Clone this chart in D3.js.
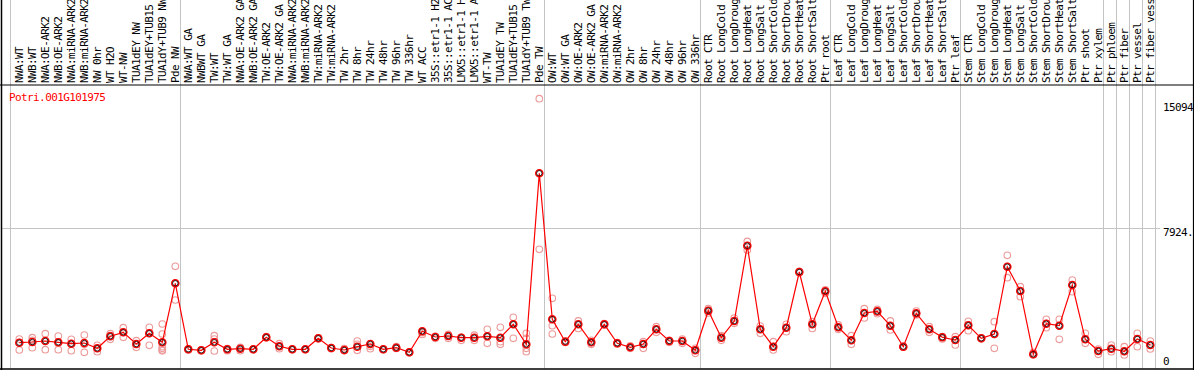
<!DOCTYPE html>
<html>
<head>
<meta charset="utf-8">
<script src="https://cdn.jsdelivr.net/npm/d3@7"></script>
<style>
  body { margin: 0; background: #fff; }
  svg { display: block; }
  text { font-family: "DejaVu Sans Mono", monospace; font-size: 11px; letter-spacing: -0.6px; }
</style>
</head>
<body>
<div id="chart"></div>
<script>
// chart size
const width = 1194
const height = 370

const geneName = "Potri.001G101975"

// sample names, left to right
const categories = [
  "NWA:WT", "NWB:WT", "NWA:OE-ARK2", "NWB:OE-ARK2", "NWA:miRNA-ARK2", "NWB:miRNA-ARK2",
  "NW 0hr", "WT H2O", "WT-NW", "TUA1dEY NW", "TUA1dEY+TUB15 NW", "TUA1dY+TUB9 NW", "Pde NW",
  "NWA:WT GA", "NWBWT GA", "TW:WT", "TW:WT GA", "NWA:OE-ARK2 GA", "NWB:OE-ARK2 GA",
  "TW:OE-ARK2", "TW:OE-ARK2 GA", "NWA:miRNA-ARK2 GA", "NWB:miRNA-ARK2 GA", "TW:miRNA-ARK2",
  "TW:miRNA-ARK2 GA", "TW 2hr", "TW 8hr", "TW 24hr", "TW 48hr", "TW 96hr", "TW 336hr",
  "WT ACC", "35S::etr1-1 H2O", "35S::etr1-1 ACC", "LMX5::etr1-1 H2O", "LMX5::etr1-1 ACC",
  "WT-TW", "TUA1dEY TW", "TUA1dEY+TUB15 TW", "TUA1dY+TUB9 TW", "Pde TW",
  "OW:WT", "OW:WT GA", "OW:OE-ARK2", "OW:OE-ARK2 GA", "OW:miRNA-ARK2", "OW:miRNA-ARK2 GA",
  "OW 2hr", "OW 8hr", "OW 24hr", "OW 48hr", "OW 96hr", "OW 336hr",
  "Root CTR", "Root LongCold", "Root LongDrought", "Root LongHeat", "Root LongSalt",
  "Root ShortCold", "Root ShortDrought", "Root ShortHeat", "Root ShortSalt", "Ptr root",
  "Leaf CTR", "Leaf LongCold", "Leaf LongDrought", "Leaf LongHeat", "Leaf LongSalt",
  "Leaf ShortCold", "Leaf ShortDrought", "Leaf ShortHeat", "Leaf ShortSalt", "Ptr leaf",
  "Stem CTR", "Stem LongCold", "Stem LongDrought", "Stem LongHeat", "Stem LongSalt",
  "Stem ShortCold", "Stem ShortDrought", "Stem ShortHeat", "Stem ShortSalt", "Ptr shoot",
  "Ptr xylem", "Ptr phloem", "Ptr fiber", "Ptr vessel", "Ptr fiber vessel"
]

// mean expression per sample
const means = [
  1598, 1637, 1692, 1620, 1543, 1582, 1288, 1952, 2173, 1526, 2118, 1620, 4883,
  1233, 1178, 1620, 1233, 1266, 1233, 1897, 1399, 1233, 1233, 1841, 1305, 1194, 1377,
  1526, 1233, 1322, 1067, 2229, 1913, 1969, 1875, 1875, 1952, 1875, 2616, 1510, 10966,
  2892, 1654, 2616, 1620, 2616, 1565, 1344, 1526, 2339, 1692, 1692, 1178,
  3368, 1875, 2798, 6962, 2339, 1377, 2428, 5508, 2616, 4440,
  2450, 1731, 3240, 3330, 2538, 1377, 3222, 2339, 1897, 1747,
  2560, 1841, 2079, 5801, 4457, 957, 2649, 2538, 4789, 1786,
  1139, 1266, 1123, 1803, 1471
]

// individual replicates per sample
const replicates = [
  [1803, 1598, 1194], [1875, 1731, 1322], [2096, 1692, 1211], [1969, 1582, 1211],
  [1786, 1543, 1156], [2024, 1510, 1067], [1454, 1288, 1100], [2096, 1985, 1786],
  [2428, 2173, 1897], [1709, 1526, 1344], [2450, 2118, 1454],
  [2632, 2079, 1377, 1288, 1194, 1150], [5823, 4883, 3960],
  [1260, 1233, 1200], [1200, 1178, 1150], [1985, 1803, 1139], [1266, 1233, 1156],
  [1344, 1300, 1156], [1250, 1233, 1215], [1930, 1897, 1870], [1543, 1399, 1266],
  [1250, 1233, 1215], [1250, 1233, 1215], [1870, 1841, 1810], [1330, 1305, 1270],
  [1270, 1194, 1150], [1692, 1510, 1178], [1526, 1400, 1266], [1250, 1233, 1215],
  [1377, 1322, 1280], [1090, 1067, 1040], [2229, 2150, 2057], [1950, 1913, 1841],
  [2057, 1969, 1841], [1900, 1875, 1731], [2013, 1875, 1730], [2339, 1952, 1565],
  [2450, 1654, 1510], [3003, 2616, 1841], [2118, 1841, 1471, 1288, 1100],
  [15094, 10966, 6763],
  [4053, 2892, 2538, 2079], [1700, 1654, 1610], [2800, 2616, 2390], [1731, 1620, 1510],
  [2650, 2616, 2580], [1600, 1565, 1530], [1420, 1344, 1288], [1654, 1510, 1288],
  [2484, 2339, 2173], [1730, 1692, 1620], [1803, 1692, 1565], [1288, 1178, 1011],
  [3480, 3368, 3240], [1985, 1875, 1731], [2965, 2798, 2670], [7200, 6962, 6725],
  [2520, 2339, 2118], [1654, 1377, 1194], [2616, 2428, 2210], [5540, 5508, 5470],
  [2760, 2616, 2390], [4520, 4440, 4330],
  [2580, 2450, 2339], [1985, 1731, 1510], [3480, 3240, 2965], [3440, 3330, 3200],
  [2800, 2538, 2300], [1400, 1377, 1350], [3350, 3222, 3130], [2484, 2339, 2173],
  [1930, 1897, 1803], [1930, 1747, 1471],
  [2780, 2560, 2260], [1870, 1841, 1810], [2760, 2079, 1288], [6430, 5801, 5193],
  [4696, 4457, 4143], [1060, 957, 930], [2890, 2649, 2428], [2890, 2538, 1786],
  [5065, 4789, 4420], [2118, 1786, 1565],
  [1250, 1139, 957], [1471, 1266, 1100], [1377, 1123, 920], [2118, 1803, 1377],
  [1692, 1471, 1250]
]

// last sample index of each group (a separator follows it)
const groupEnds = [12, 40, 52, 62, 72, 83, 84, 85, 86, 87]

// y axis labels
const tickValues = [15094, 7924, 0]
const tickLabels = ["15094", "7924.", "0"]
const yMax = 15848

const headerBottom = 85
const frameBottom = 368.5

const svg = d3.select("#chart")
  .append("svg")
  .attr("width", width)
  .attr("height", height)

const x = d3.scaleLinear()
  .domain([0, categories.length - 1])
  .range([19.3, 1150.3])

const y = d3.scaleLinear()
  .domain([0, yMax])
  .range([371.6, headerBottom])

// separators
const sepX = [x(0) - 9].concat(groupEnds.map(i => x(i) + 5))
svg.append("g")
  .selectAll("line")
  .data(sepX)
  .enter()
  .append("line")
  .attr("x1", d => Math.round(d) + 0.5)
  .attr("x2", d => Math.round(d) + 0.5)
  .attr("y1", 0)
  .attr("y2", frameBottom)
  .attr("stroke", "#c4c4c4")
  .attr("stroke-width", 1)

// middle grid line
svg.append("line")
  .attr("x1", 1)
  .attr("x2", 1160)
  .attr("y1", Math.round(y(yMax / 2)) + 0.5)
  .attr("y2", Math.round(y(yMax / 2)) + 0.5)
  .attr("stroke", "#c4c4c4")

// frame
svg.append("line").attr("x1", 0).attr("x2", width).attr("y1", headerBottom).attr("y2", headerBottom)
  .attr("stroke", "#000").attr("stroke-width", 1.2)
svg.append("line").attr("x1", 0).attr("x2", width).attr("y1", frameBottom + 0.5).attr("y2", frameBottom + 0.5)
  .attr("stroke", "#000").attr("stroke-width", 1.5)
svg.append("line").attr("x1", 1.5).attr("x2", 1.5).attr("y1", 0).attr("y2", height)
  .attr("stroke", "#000").attr("stroke-width", 1.5)
svg.append("line").attr("x1", 1193.5).attr("x2", 1193.5).attr("y1", 0).attr("y2", height)
  .attr("stroke", "#000").attr("stroke-width", 1.2)

// rotated sample names (long ones run off the top, as in the original)
svg.append("g")
  .selectAll("text")
  .data(categories)
  .enter()
  .append("text")
  .attr("transform", (d, i) => "translate(" + (x(i) + 4) + "," + 83 + ") rotate(-90)")
  .attr("fill", "#000")
  .text(d => d)

// y labels
svg.append("g")
  .selectAll("text")
  .data(tickValues)
  .enter()
  .append("text")
  .attr("x", 1163)
  .attr("y", (d, i) => y(d) + [12.5, 8, -6.5][i])
  .attr("fill", "#000")
  .text((d, i) => tickLabels[i])

// gene name
svg.append("text")
  .attr("x", 9)
  .attr("y", 101)
  .attr("fill", "#ff0000")
  .text(geneName)

// replicate circles
const repPoints = []
replicates.forEach((reps, i) => reps.forEach(v => repPoints.push({ i: i, v: v })))
svg.append("g")
  .selectAll("circle")
  .data(repPoints)
  .enter()
  .append("circle")
  .attr("cx", d => x(d.i))
  .attr("cy", d => y(d.v))
  .attr("r", 3.3)
  .attr("fill", "none")
  .attr("stroke", "#ec9a9a")
  .attr("stroke-width", 1.1)

// mean line
const line = d3.line()
  .x((d, i) => x(i))
  .y(d => y(d))
svg.append("path")
  .datum(means)
  .attr("d", line)
  .attr("fill", "none")
  .attr("stroke", "#ff0000")
  .attr("stroke-width", 1.2)

// mean markers
const marks = svg.append("g")
  .selectAll("g")
  .data(means)
  .enter()
  .append("g")
  .attr("transform", (d, i) => "translate(" + x(i) + "," + y(d) + ")")
marks.append("circle")
  .attr("r", 3.6)
  .attr("fill", "none")
  .attr("stroke", "#ff0000")
  .attr("stroke-width", 1.4)
marks.append("circle")
  .attr("r", 2.7)
  .attr("fill", "none")
  .attr("stroke", "#000")
  .attr("stroke-width", 0.8)
</script>
</body>
</html>
